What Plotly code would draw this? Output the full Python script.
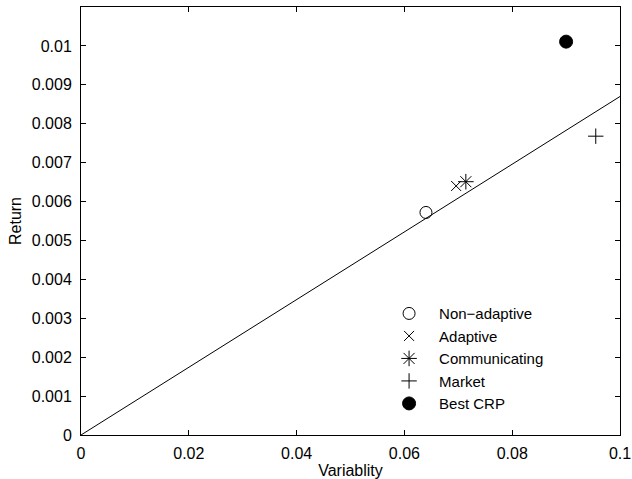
import plotly.graph_objects as go

# Data
series_names = ["Non\u2212adaptive", "Adaptive", "Communicating", "Market", "Best CRP"]
variability = [0.0640, 0.0696, 0.0714, 0.0955, 0.0900]
returns = [0.00572, 0.00640, 0.00651, 0.00768, 0.01011]
symbols = ["circle-open", "x-thin-open", "asterisk-open", "cross-thin-open", "circle"]
sizes = [12, 10, 13, 11, 13]

line_x = [0.0, 0.1]
line_y = [0.0, 0.0087]

x_ticks = [0, 0.02, 0.04, 0.06, 0.08, 0.1]
x_ticklabels = ["0", "0.02", "0.04", "0.06", "0.08", "0.1"]
y_ticks = [0, 0.001, 0.002, 0.003, 0.004, 0.005, 0.006, 0.007, 0.008, 0.009, 0.01]
y_ticklabels = ["0", "0.001", "0.002", "0.003", "0.004", "0.005", "0.006",
                "0.007", "0.008", "0.009", "0.01"]

fig = go.Figure()
fig.add_trace(go.Scatter(x=line_x, y=line_y, mode="lines",
                         line=dict(color="black", width=1), showlegend=False,
                         hoverinfo="skip"))
for name, vx, vy, sym, sz in zip(series_names, variability, returns, symbols, sizes):
    fig.add_trace(go.Scatter(
        x=[vx], y=[vy], mode="markers", name=name,
        marker=dict(symbol=sym, size=sz, color="black",
                    line=dict(color="black", width=1)),
    ))

font_family = "Liberation Sans, Arial, Helvetica, sans-serif"
fig.update_layout(
    width=632, height=479,
    margin=dict(l=81, r=12, t=7, b=44),
    paper_bgcolor="white", plot_bgcolor="white",
    font=dict(family=font_family, size=16, color="black"),
    legend=dict(x=0.553, y=0.322, xanchor="left", yanchor="top",
                bgcolor="rgba(0,0,0,0)", borderwidth=0,
                font=dict(size=15, family=font_family),
                tracegroupgap=0, itemwidth=50),
    xaxis=dict(range=[0, 0.1], tickvals=x_ticks, ticktext=x_ticklabels,
               ticks="inside", ticklen=5, tickcolor="black",
               showline=True, linecolor="black", linewidth=1, mirror="ticks",
               showgrid=False, zeroline=False, automargin=False,
               ticklabelstandoff=4,
               title=dict(text="Variablity", font=dict(size=16))),
    yaxis=dict(range=[0, 0.011], tickvals=y_ticks, ticktext=y_ticklabels,
               ticks="inside", ticklen=5, tickcolor="black",
               showline=True, linecolor="black", linewidth=1, mirror="ticks",
               showgrid=False, zeroline=False, automargin=False,
               ticklabelstandoff=5,
               title=dict(text="Return", standoff=6, font=dict(size=16))),
)

fig.write_html("out.html",
               config={"displayModeBar": False},
               post_script="document.body.style.margin='0';document.body.style.overflow='hidden';")
